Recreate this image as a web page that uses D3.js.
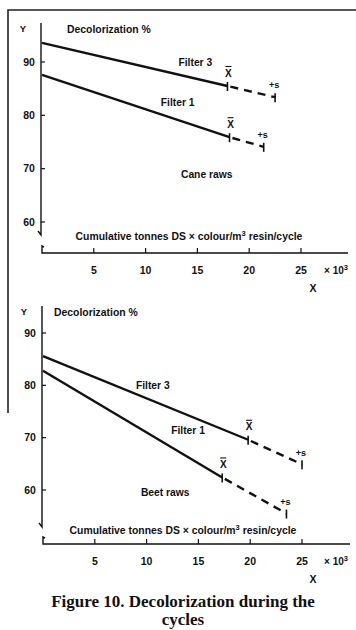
<!DOCTYPE html>
<html>
<head>
<meta charset="utf-8">
<script src="https://cdn.jsdelivr.net/npm/d3@7"></script>
<style>
  body { margin: 0; background: #fff; }
  svg { display: block; }
  text { font-family: "Liberation Sans", Arial, sans-serif; font-weight: bold; fill: #111; }
  .caption { font-family: "Liberation Serif", "Times New Roman", serif; }
</style>
</head>
<body>
<div id="chart"></div>
<script>
// values: [x (×10^3), decolorization %] for start, mean (X̄) and mean + s
const xTicks = [5, 10, 15, 20, 25];
const yTicks = [60, 70, 80, 90];
const caneFilter1 = [[0, 87.6], [18.1, 75.9], [21.4, 74.1]];
const caneFilter3 = [[0, 93.6], [17.9, 85.5], [22.5, 83.4]];
const beetFilter1 = [[0, 82.8], [17.3, 62.4], [23.5, 55.5]];
const beetFilter3 = [[0, 85.6], [19.8, 69.6], [25.0, 64.9]];

const W = 356, H = 630;
const svg = d3.select('#chart').append('svg').attr('width', W).attr('height', H);

// frame fragment from the page
svg.append('path')
    .attr('d', 'M8,413 V10 H356')
    .attr('fill', 'none').attr('stroke', '#222').attr('stroke-width', 1.6);

function drawPanel(p) {
    const x = d3.scaleLinear().domain([0, 25]).range([p.x0, p.x25]);
    const y = d3.scaleLinear().domain([60, 90]).range([p.y60, p.y90]);
    const g = svg.append('g');
    const ax = x(0) - 1;

    // y axis line with break hook at bottom
    g.append('path')
        .attr('d', `M${ax},${p.yTop} V${p.yBot} l-3,-4`)
        .attr('fill', 'none').attr('stroke', '#111').attr('stroke-width', 1.4);
    g.selectAll('.yt').data(yTicks).enter().append('line')
        .attr('x1', ax).attr('x2', ax + 4)
        .attr('y1', d => y(d)).attr('y2', d => y(d))
        .attr('stroke', '#111').attr('stroke-width', 1.2);
    g.selectAll('.yl').data(yTicks).enter().append('text')
        .attr('x', ax - 12).attr('y', d => y(d))
        .attr('dy', '0.35em').attr('text-anchor', 'middle')
        .style('font-size', '10.5px').text(d => d);

    // x axis with break hook at left
    g.append('path')
        .attr('d', `M${ax + 3},${p.xAxisY - 6} l-2,-1 V${p.xAxisY} H${p.xEnd}`)
        .attr('fill', 'none').attr('stroke', '#111').attr('stroke-width', 1.4);
    g.selectAll('.xt').data(xTicks).enter().append('line')
        .attr('x1', d => x(d)).attr('x2', d => x(d))
        .attr('y1', p.xAxisY).attr('y2', p.xAxisY - 5)
        .attr('stroke', '#111').attr('stroke-width', 1.2);
    g.selectAll('.xl').data(xTicks).enter().append('text')
        .attr('x', d => x(d)).attr('y', p.xAxisY + 17)
        .attr('dy', '0.35em').attr('text-anchor', 'middle')
        .style('font-size', '10.5px').text(d => d);
    g.append('text').attr('x', 336).attr('y', p.xAxisY + 17).attr('dy', '0.35em')
        .attr('text-anchor', 'middle').style('font-size', '10px')
        .html('× 10<tspan dy="-4" style="font-size:7.5px">3</tspan>');
    g.append('text').attr('x', 313).attr('y', p.xAxisY + 35).attr('dy', '0.35em')
        .attr('text-anchor', 'middle').style('font-size', '10.5px').text('X');

    // axis titles
    g.append('text').attr('x', ax - 18).attr('y', p.yTop + 6).attr('dy', '0.35em')
        .attr('text-anchor', 'middle').style('font-size', '9.5px').text('Y');
    g.append('text').attr('x', p.titleX).attr('y', p.yTop + 6).attr('dy', '0.35em')
        .style('font-size', '10.4px').text('Decolorization %');
    g.append('text').attr('x', p.xTitleX).attr('y', p.xAxisY - p.xTitleOff).attr('dy', '0.35em')
        .attr('text-anchor', 'middle').style('font-size', '10.4px')
        .html('Cumulative tonnes DS × colour/m<tspan dy="-4" style="font-size:7.5px">3</tspan><tspan dy="4">  resin/cycle</tspan>');

    // filter lines: solid to mean, dashed to mean + s
    p.series.forEach(s => {
        const pts = s.data.map(d => [x(d[0]), y(d[1])]);
        g.append('line')
            .attr('x1', pts[0][0]).attr('y1', pts[0][1]).attr('x2', pts[1][0]).attr('y2', pts[1][1])
            .attr('stroke', '#111').attr('stroke-width', 2.4);
        g.append('line')
            .attr('x1', pts[1][0]).attr('y1', pts[1][1]).attr('x2', pts[2][0]).attr('y2', pts[2][1])
            .attr('stroke', '#111').attr('stroke-width', 2.4).attr('stroke-dasharray', '8,6')
            .attr('stroke-dashoffset', -3);
        [pts[1], pts[2]].forEach(pt => {
            g.append('line').attr('x1', pt[0]).attr('x2', pt[0])
                .attr('y1', pt[1] - 4).attr('y2', pt[1] + 5)
                .attr('stroke', '#111').attr('stroke-width', 1.6);
        });
        // X̄ label
        const mx = pts[1][0] + 1, my = pts[1][1] - 13;
        g.append('text').attr('x', mx).attr('y', my).attr('dy', '0.35em')
            .attr('text-anchor', 'middle').style('font-size', '10px').text('X');
        g.append('line').attr('x1', mx - 3).attr('x2', mx + 3)
            .attr('y1', my - 6.5).attr('y2', my - 6.5).attr('stroke', '#111').attr('stroke-width', 1.1);
        // +s label
        g.append('text').attr('x', pts[2][0] - 1).attr('y', pts[2][1] - 12).attr('dy', '0.35em')
            .attr('text-anchor', 'middle').style('font-size', '9px').text('+s');
        // filter name
        g.append('text').attr('x', x(s.label[0])).attr('y', y(s.label[1])).attr('dy', '0.35em')
            .attr('text-anchor', 'middle').style('font-size', '10.3px').text(s.name);
    });

    g.append('text').attr('x', x(p.region[0])).attr('y', y(p.region[1])).attr('dy', '0.35em')
        .attr('text-anchor', 'middle').style('font-size', '10.3px').text(p.regionName);
}

drawPanel({
    x0: 42, x25: 301, y60: 222, y90: 62, yTop: 23, yBot: 235, xAxisY: 253, xEnd: 348,
    titleX: 67, xTitleX: 189, xTitleOff: 17,
    series: [
        { name: 'Filter 3', data: caneFilter3, label: [14.8, 90] },
        { name: 'Filter 1', data: caneFilter1, label: [13.1, 82.5] }
    ],
    regionName: 'Cane raws', region: [15.9, 69.0]
});

drawPanel({
    x0: 43, x25: 302, y60: 490, y90: 333, yTop: 306, yBot: 527, xAxisY: 544, xEnd: 350,
    titleX: 54, xTitleX: 183, xTitleOff: 14,
    series: [
        { name: 'Filter 3', data: beetFilter3, label: [10.6, 79.9] },
        { name: 'Filter 1', data: beetFilter1, label: [14.0, 71.4] }
    ],
    regionName: 'Beet raws', region: [11.8, 59.6]
});

// caption
svg.append('text').attr('class', 'caption').attr('x', 183).attr('y', 601).attr('dy', '0.35em')
    .attr('text-anchor', 'middle').style('font-size', '17px').text('Figure 10. Decolorization during the');
svg.append('text').attr('class', 'caption').attr('x', 183).attr('y', 619).attr('dy', '0.35em')
    .attr('text-anchor', 'middle').style('font-size', '17px').text('cycles');
</script>
</body>
</html>
